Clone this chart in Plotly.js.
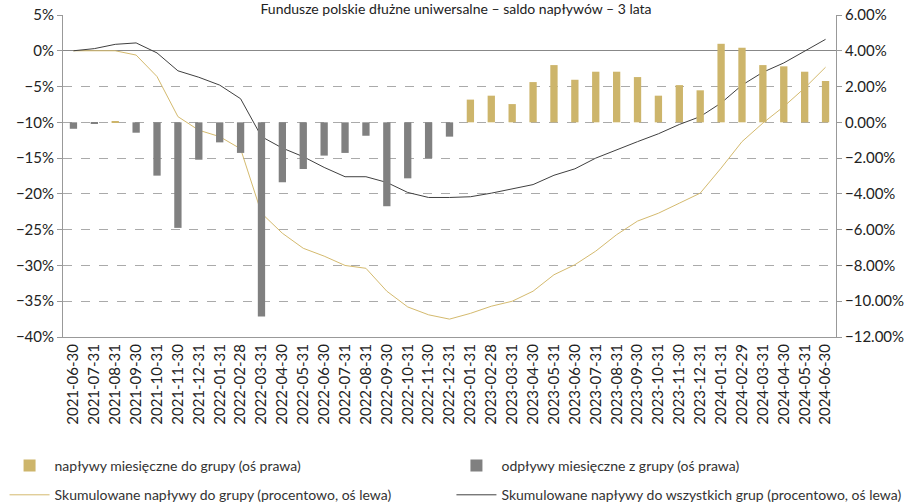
<!DOCTYPE html>
<html><head><meta charset="utf-8">
<script src="https://cdn.plot.ly/plotly-3.0.1.min.js"></script>
<style>body{margin:0}#c{width:912px;height:504px}</style></head>
<body><div id="c"></div>
<script>
const dates=["2021-06-30","2021-07-31","2021-08-31","2021-09-30","2021-10-31","2021-11-30","2021-12-31","2022-01-31","2022-02-28","2022-03-31","2022-04-30","2022-05-31","2022-06-30","2022-07-31","2022-08-31","2022-09-30","2022-10-31","2022-11-30","2022-12-31","2023-01-31","2023-02-28","2023-03-31","2023-04-30","2023-05-31","2023-06-30","2023-07-31","2023-08-31","2023-09-30","2023-10-31","2023-11-30","2023-12-31","2024-01-31","2024-02-29","2024-03-31","2024-04-30","2024-05-31","2024-06-30"];
const inflows=[null,null,0.05,null,null,null,null,null,null,null,null,null,null,null,null,null,null,null,null,1.27,1.49,1.02,2.25,3.2,2.38,2.83,2.83,2.53,1.49,2.08,1.79,4.39,4.17,3.2,3.13,2.83,2.31];
const outflows=[-0.36,-0.05,null,-0.58,-2.98,-5.9,-2.09,-1.12,-1.71,-10.86,-3.35,-2.61,-1.86,-1.71,-0.75,-4.69,-3.13,-2.01,-0.8,null,null,null,null,null,null,null,null,null,null,null,null,null,null,null,null,null,null];
const cumGroup=[0,0,0,-0.6,-3.6,-9.2,-11.1,-12,-13.7,-22.7,-25.5,-27.6,-28.7,-30,-30.4,-33.6,-35.8,-36.9,-37.5,-36.7,-35.7,-35,-33.6,-31.3,-29.9,-28,-25.7,-23.8,-22.7,-21.3,-19.9,-16.4,-12.7,-10.1,-7.8,-5.2,-2.3];
const cumAll=[0,0.3,0.9,1.1,-0.3,-2.8,-3.7,-4.8,-6.7,-12,-13.6,-14.8,-16.3,-17.6,-17.6,-18.4,-19.8,-20.5,-20.5,-20.4,-19.9,-19.3,-18.7,-17.4,-16.5,-15,-13.8,-12.7,-11.6,-10.3,-9.2,-7.3,-4.8,-3,-1.7,-0.1,1.6];
const GOLD='#CDB56B', GRAY='#808080';
const data=[
 {type:'bar',x:dates,y:inflows.map(v=>v==null?null:v/100),yaxis:'y2',name:'napływy miesięczne do grupy (oś prawa)',marker:{color:GOLD},width:0.35,legend:'legend',legendgroup:'a'},
 {type:'bar',x:dates,y:outflows.map(v=>v==null?null:v/100),yaxis:'y2',name:'odpływy miesięczne z grupy (oś prawa)',marker:{color:GRAY},width:0.35,legend:'legend2',legendgroup:'b'},
 {type:'scatter',mode:'lines',x:dates,y:cumGroup.map(v=>v/100),name:'Skumulowane napływy do grupy (procentowo, oś lewa)',line:{color:'#D4BA6E',width:1},legend:'legend',legendgroup:'c'},
 {type:'scatter',mode:'lines',x:dates,y:cumAll.map(v=>v/100),name:'Skumulowane napływy do wszystkich grup (procentowo, oś lewa)',line:{color:'#404040',width:1},legend:'legend2',legendgroup:'d'}
];
const leg={orientation:'v',xref:'container',yref:'container',yanchor:'top',xanchor:'left',y:1-450/504,font:{size:14,color:'#333'},tracegroupgap:8,itemwidth:40,bgcolor:'rgba(0,0,0,0)'};
const layout={
 width:912,height:504,margin:{l:63,r:76,t:15,b:167,autoexpand:false},
 paper_bgcolor:'#fff',plot_bgcolor:'#fff',
 font:{family:'Lato, sans-serif',size:15,color:'#222'},
 title:{text:'Fundusze polskie dłużne uniwersalne – saldo napływów – 3 lata',x:0.5,xanchor:'center',yref:'container',y:1-9/504,yanchor:'middle',font:{size:14}},
 barmode:'overlay',showlegend:true,
 xaxis:{type:'category',tickangle:-90,showgrid:false,zeroline:false,showline:true,linecolor:'#999',tickfont:{size:15},automargin:false},
 yaxis:{range:[-0.40,0.05],dtick:0.05,tickformat:'.0%',showgrid:true,gridcolor:'#aaa',griddash:'dash',zeroline:true,zerolinecolor:'#888',zerolinewidth:1,showline:true,linecolor:'#999',ticks:'outside',ticklen:5,tickcolor:'#999',automargin:false},
 yaxis2:{overlaying:'y',side:'right',range:[-0.12,0.06],dtick:0.02,tickformat:'.2%',showgrid:false,zeroline:false,showline:true,linecolor:'#999',ticks:'outside',ticklen:5,tickcolor:'#999',automargin:false},
 legend:Object.assign({},leg,{x:0.005}),
 legend2:Object.assign({},leg,{x:0.495})
};
Plotly.newPlot('c',data,layout,{displayModeBar:false});
</script></body></html>
